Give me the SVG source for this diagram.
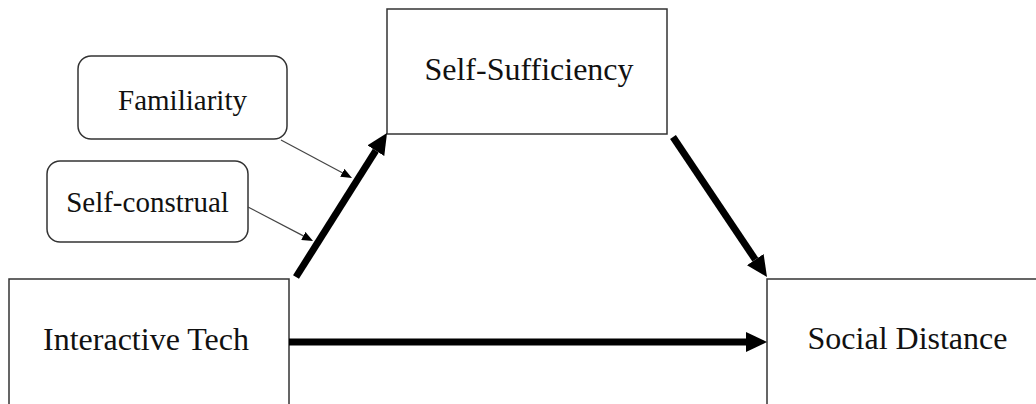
<svg xmlns="http://www.w3.org/2000/svg" width="1036" height="404" viewBox="0 0 1036 404">
<style>
.box{fill:#fff;stroke:#333;stroke-width:1.5}
.lbl{font-family:"Liberation Serif","Times New Roman",serif;fill:#111;text-anchor:middle}
.big{font-size:32px}
.small{font-size:29px}
.thick{stroke:#000;stroke-width:7;fill:none}
.thin{stroke:#444;stroke-width:1.2;fill:none}
</style>
<defs>
<marker id="bighead" markerUnits="userSpaceOnUse" viewBox="0 0 21 20" markerWidth="21" markerHeight="20" refX="0" refY="10" orient="auto">
<path d="M0,0 L21,10 L0,20 z" fill="#000"/>
</marker>
<marker id="smallhead" markerUnits="userSpaceOnUse" viewBox="0 0 11 9" markerWidth="11" markerHeight="9" refX="0" refY="4.5" orient="auto">
<path d="M0,0 L11,4.5 L0,9 z" fill="#000"/>
</marker>
</defs>
<rect width="1036" height="404" fill="#fff"/>
<g id="node-self-sufficiency">
<rect class="box" x="387" y="9" width="280" height="125"/>
<text class="lbl big" x="529" y="80">Self-Sufficiency</text>
</g>
<g id="node-familiarity">
<rect class="box" x="78" y="56" width="209" height="83" rx="13"/>
<text class="lbl small" x="182.5" y="110">Familiarity</text>
</g>
<g id="node-self-construal">
<rect class="box" x="47" y="161" width="201" height="81" rx="13"/>
<text class="lbl small" x="147.5" y="212">Self-construal</text>
</g>
<g id="node-interactive-tech">
<rect class="box" x="9" y="279" width="280" height="126"/>
<text class="lbl big" x="146" y="350">Interactive Tech</text>
</g>
<g id="node-social-distance">
<rect class="box" x="767" y="279" width="290" height="126"/>
<text class="lbl big" x="907.5" y="349">Social Distance</text>
</g>
<g id="connectors">
<line class="thick" x1="296" y1="277" x2="375.8" y2="150.7" marker-end="url(#bighead)"/>
<line class="thick" x1="673" y1="137" x2="755.3" y2="259.6" marker-end="url(#bighead)"/>
<line class="thick" x1="289" y1="342" x2="746" y2="342" marker-end="url(#bighead)"/>
<line class="thin" x1="281" y1="140" x2="342.3" y2="172.8" marker-end="url(#smallhead)"/>
<line class="thin" x1="248" y1="207" x2="303.3" y2="235.9" marker-end="url(#smallhead)"/>
</g>
</svg>
